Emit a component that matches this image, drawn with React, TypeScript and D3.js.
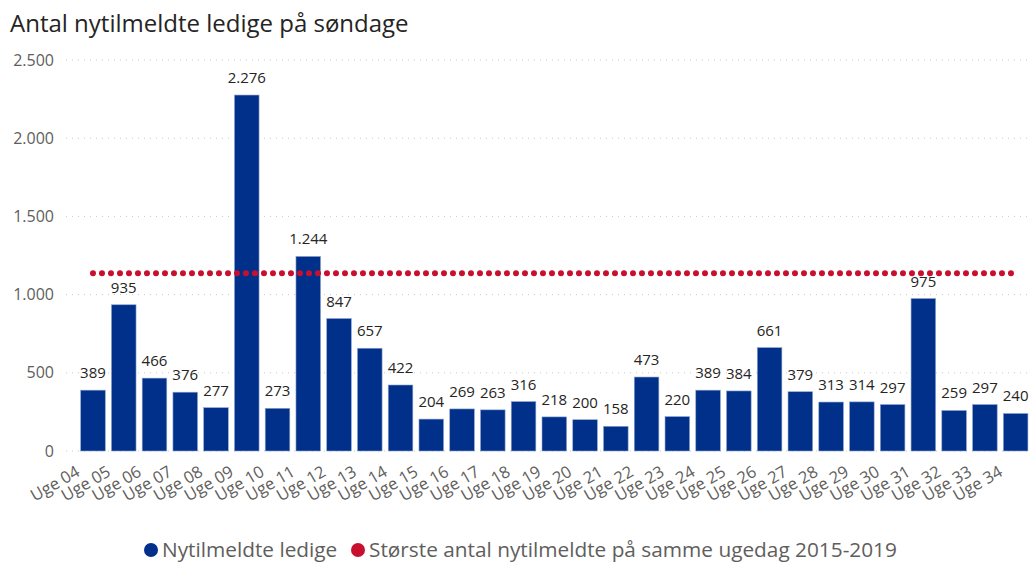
import React from "react";
import * as d3 from "d3";

const weeks = ["Uge 04","Uge 05","Uge 06","Uge 07","Uge 08","Uge 09","Uge 10","Uge 11","Uge 12","Uge 13","Uge 14","Uge 15","Uge 16","Uge 17","Uge 18","Uge 19","Uge 20","Uge 21","Uge 22","Uge 23","Uge 24","Uge 25","Uge 26","Uge 27","Uge 28","Uge 29","Uge 30","Uge 31","Uge 32","Uge 33","Uge 34"];
const values = [389,935,466,376,277,2276,273,1244,847,657,422,204,269,263,316,218,200,158,473,220,389,384,661,379,313,314,297,975,259,297,240];
const maxRef = 1137;
const yTicks = [0,500,1000,1500,2000,2500];

const W = 1035, H = 563;
const FONT = "'Open Sans', 'Noto Sans', sans-serif";
const BLUE = "#00308A";
const RED = "#C8102E";

const fmt = (v: number) => d3.format(",")(v).replace(/,/g, ".");

export default function App() {
  const x = d3.scaleBand<string>().domain(weeks).range([77.6, 1031]).paddingInner(0.2).paddingOuter(0.1);
  const y = d3.scaleLinear().domain([0, 2500]).range([451, 60]);
  const bw = x.bandwidth();
  return (
    <svg width={W} height={H} style={{ position: "absolute", left: 0, top: 0, background: "#fff" }}>
      <text x={10} y={32} fontFamily={FONT} fontSize={24} fill="#252423">Antal nytilmeldte ledige på søndage</text>
      {yTicks.map(t => (
        <g key={t}>
          <line x1={66} x2={1031} y1={y(t)} y2={y(t)} stroke="#c8c8c8" strokeWidth={1} strokeDasharray="1 5" />
          <text x={54} y={y(t)} dy="0.35em" textAnchor="end" fontFamily={FONT} fontSize={16} fill="#605E5C">{fmt(t)}</text>
        </g>
      ))}
      {weeks.map((w, i) => (
        <g key={w}>
          <rect x={x(w)} y={y(values[i])} width={bw} height={y(0) - y(values[i])} fill={BLUE} stroke="#8fa5cf" strokeWidth={0.6} />
          <text x={(x(w) as number) + bw / 2} y={y(values[i]) - 12} textAnchor="middle" fontFamily={FONT} fontSize={15} fill="#252423">{fmt(values[i])}</text>
          <text transform={`translate(${(x(w) as number) + bw / 2 - 12},${475}) rotate(-30)`} textAnchor="end" fontFamily={FONT} fontSize={16.5} fill="#605E5C">{w}</text>
        </g>
      ))}
      <line x1={(x(weeks[0]) as number) + bw / 2} x2={(x(weeks[weeks.length - 1]) as number) + bw / 2} y1={y(maxRef)} y2={y(maxRef)} stroke={RED} strokeWidth={6} strokeLinecap="round" strokeDasharray="0 9" />
      <g fontFamily={FONT} fontSize={20.8} fill="#605E5C">
        <circle cx={151} cy={550} r={7} fill={BLUE} />
        <text x={162} y={557}>Nytilmeldte ledige</text>
        <circle cx={358} cy={550} r={7} fill={RED} />
        <text x={369} y={557}>Største antal nytilmeldte på samme ugedag 2015-2019</text>
      </g>
    </svg>
  );
}
